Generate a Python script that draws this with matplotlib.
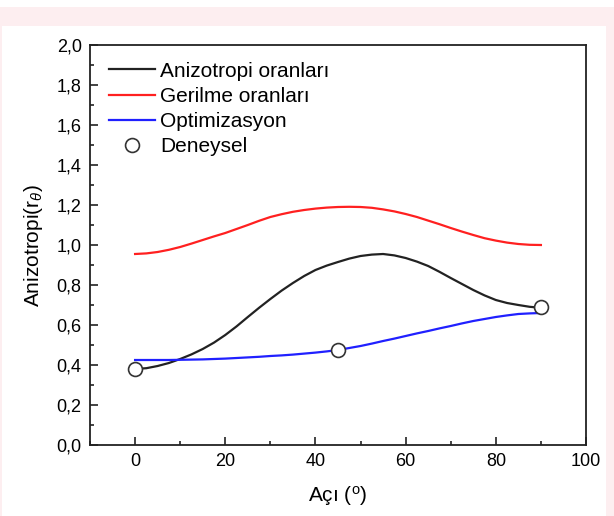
import matplotlib
matplotlib.use("Agg")
import matplotlib.pyplot as plt
from matplotlib.patches import Rectangle
from matplotlib.ticker import MultipleLocator, FuncFormatter

plt.rcParams['font.family'] = ['Liberation Sans', 'DejaVu Sans']
plt.rcParams['mathtext.fontset'] = 'custom'
plt.rcParams['mathtext.rm'] = 'Liberation Sans'
plt.rcParams['mathtext.it'] = 'Liberation Sans:italic'

# angles
aci = [0, 2.5, 5, 7.5, 10, 12.5, 15, 17.5, 20, 22.5, 25, 27.5, 30, 32.5, 35, 37.5,
       40, 42.5, 45, 47.5, 50, 52.5, 55, 57.5, 60, 62.5, 65, 67.5, 70, 72.5, 75,
       77.5, 80, 82.5, 85, 87.5, 90]

anizotropi = [0.380, 0.384, 0.395, 0.410, 0.430, 0.453, 0.480, 0.512, 0.550, 0.593,
              0.640, 0.686, 0.730, 0.772, 0.810, 0.845, 0.875, 0.897, 0.915, 0.932,
              0.945, 0.952, 0.955, 0.948, 0.935, 0.917, 0.895, 0.866, 0.835, 0.805,
              0.775, 0.748, 0.725, 0.710, 0.700, 0.691, 0.686]
gerilme = [0.955, 0.958, 0.965, 0.976, 0.990, 1.007, 1.025, 1.043, 1.060, 1.080,
           1.100, 1.121, 1.140, 1.154, 1.166, 1.175, 1.182, 1.187, 1.190, 1.191,
           1.190, 1.186, 1.178, 1.168, 1.155, 1.140, 1.122, 1.104, 1.085, 1.067,
           1.050, 1.034, 1.022, 1.012, 1.005, 1.001, 1.000]
optimizasyon = [0.425, 0.425, 0.425, 0.425, 0.426, 0.427, 0.428, 0.430, 0.432, 0.435,
                0.438, 0.441, 0.445, 0.448, 0.452, 0.457, 0.462, 0.468, 0.475, 0.485,
                0.495, 0.507, 0.520, 0.532, 0.545, 0.558, 0.570, 0.583, 0.595, 0.608,
                0.620, 0.630, 0.640, 0.648, 0.655, 0.658, 0.660]

deney_aci = [0, 45, 90]
deneysel = [0.38, 0.475, 0.69]

fig = plt.figure(figsize=(6.14, 5.16), dpi=100)
fig.patch.set_facecolor('white')
# pink frame around the white panel
fig.patches.append(Rectangle((0, 0), 1, 1 - 7/516, transform=fig.transFigure,
                             facecolor='#fdeef0', edgecolor='none', zorder=-2))
fig.patches.append(Rectangle((2/614, 0), 604/614, 1 - 26/516, transform=fig.transFigure,
                             facecolor='white', edgecolor='none', zorder=-1))

ax = fig.add_axes([90/614, 1 - 445/516, 496/614, 400/516])

ax.plot(aci, anizotropi, color='#222222', lw=1.6, label='Anizotropi oranları')
ax.plot(aci, gerilme, color='#ff2020', lw=1.6, label='Gerilme oranları')
ax.plot(aci, optimizasyon, color='#2020ff', lw=1.6, label='Optimizasyon')
ax.plot(deney_aci, deneysel, 'o', ms=10, mfc='white', mec='#333333', mew=1.2,
        label='Deneysel', zorder=5)

ax.set_xlim(-10, 100)
ax.set_ylim(0, 2.0)
ax.xaxis.set_major_locator(MultipleLocator(20))
ax.xaxis.set_minor_locator(MultipleLocator(10))
ax.yaxis.set_major_locator(MultipleLocator(0.2))
ax.yaxis.set_minor_locator(MultipleLocator(0.1))
ax.yaxis.set_major_formatter(FuncFormatter(lambda v, p: f'{v:.1f}'.replace('.', ',')))
ax.tick_params(which='both', direction='in', top=False, right=False,
               labelsize=13, width=1.2, color='#222222')
ax.tick_params(which='major', length=6, pad=6)
ax.tick_params(which='minor', length=3)
for s in ax.spines.values():
    s.set_linewidth(1.3)
    s.set_color('#222222')

ax.set_xlabel('Açı ($^{\\mathrm{o}}$)', fontsize=15, labelpad=10)
ax.set_ylabel('Anizotropi(r$_{\\theta}$)', fontsize=15, labelpad=8)

ax.legend(loc='upper left', frameon=False, fontsize=15, handlelength=2.2,
          handletextpad=0.25, labelspacing=0.3, borderaxespad=0.4,
          bbox_to_anchor=(0.005, 1.0))

fig.savefig('out.png', dpi=100, facecolor=fig.get_facecolor())
